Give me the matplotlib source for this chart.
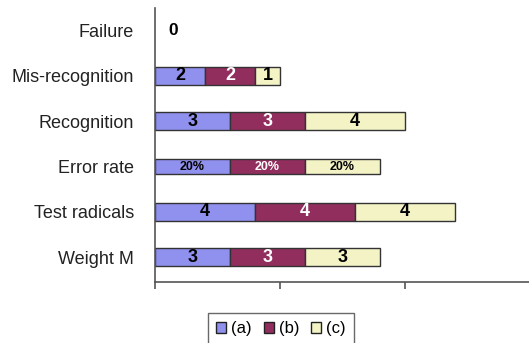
import numpy as np
import matplotlib.pyplot as plt
from matplotlib.patches import Patch

plt.rcParams['font.family'] = ['Liberation Sans', 'DejaVu Sans']

# rows from bottom to top
categories = ['Weight M', 'Test radicals', 'Error rate', 'Recognition',
              'Mis-recognition', 'Failure']
series_names = ['(a)', '(b)', '(c)']
val_a = [3, 4, 0, 3, 2, 0]
val_b = [3, 4, 0, 3, 2, 0]
val_c = [3, 4, 0, 4, 1, 0]
# error rate in percent of the full axis
error_pct = [20, 20, 20]
x_max = 15

colors = ['#9090EE', '#922E5E', '#F3F3C6']
text_colors = ['black', 'white', 'black']
err_row = categories.index('Error rate')
fail_row = categories.index('Failure')

values = np.array([val_a, val_b, val_c], dtype=float)
for k in range(3):
    values[k, err_row] = error_pct[k] / 100 * x_max

fig = plt.figure(figsize=(5.29, 3.43), dpi=100)
ax = fig.add_axes([155 / 529, 1 - 282 / 343, 375 / 529, 274 / 343])

y = np.arange(len(categories))
heights = [0.34 if i == err_row else 0.4 for i in y]
left = np.zeros(len(categories))
for k in range(3):
    # no outline on empty segments
    lw = [1.0 if v > 0 else 0 for v in values[k]]
    ax.barh(y, values[k], left=left, height=heights, color=colors[k],
            edgecolor='#333333', linewidth=lw)
    for i in y:
        if i == fail_row:
            continue
        if i == err_row:
            label, size = '%d%%' % error_pct[k], 9
        else:
            label, size = '%d' % values[k, i], 13
        ax.text(left[i] + values[k, i] / 2, i, label, ha='center', va='center',
                color=text_colors[k], fontsize=size, fontweight='bold')
    left += values[k]

# zero row: a single label just right of the axis
ax.annotate('%d' % val_a[fail_row], (0, fail_row), xytext=(13, 0),
            textcoords='offset points', ha='center', va='center',
            fontsize=12.5, fontweight='bold')

ax.set_xlim(0, x_max)
ax.set_ylim(-0.55, 5.5)
ax.set_xticks([0, 5, 10, 15])
ax.set_xticklabels([])
ax.tick_params(axis='x', length=5, width=1.2, color='#555555', direction='out')
ax.set_yticks(y)
ax.set_yticklabels(categories, fontsize=13, color='#222222')
ax.tick_params(axis='y', length=0, pad=15)
for s in ['top', 'right']:
    ax.spines[s].set_visible(False)
for s in ['left', 'bottom']:
    ax.spines[s].set_color('#555555')
    ax.spines[s].set_linewidth(1.2)

handles = [Patch(facecolor=c, edgecolor='#222222', linewidth=1.0) for c in colors]
leg = fig.legend(handles, series_names, loc='upper left',
                 bbox_to_anchor=(208 / 529, 1 - 313 / 343), ncol=3,
                 fontsize=12, handlelength=0.6, handleheight=0.6,
                 handletextpad=0.3, columnspacing=0.7, borderpad=0.5,
                 fancybox=False, frameon=True, borderaxespad=0)
leg.get_frame().set_edgecolor('#444444')
leg.get_frame().set_linewidth(1.0)

fig.savefig('out.png', dpi=100)
